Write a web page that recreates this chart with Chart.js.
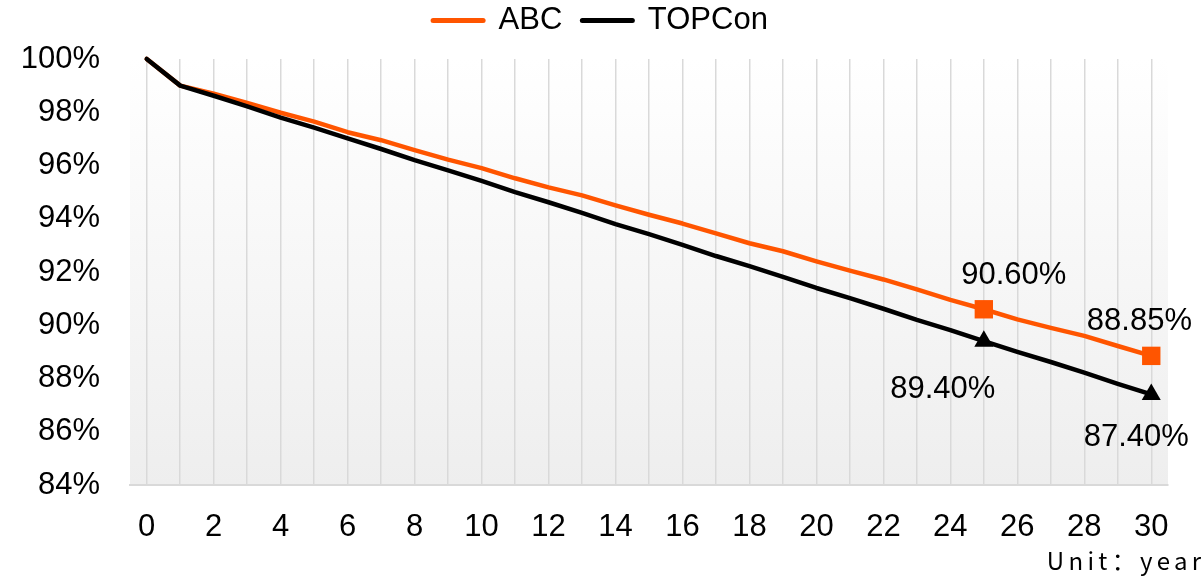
<!DOCTYPE html>
<html>
<head>
<meta charset="utf-8">
<script src="https://cdn.jsdelivr.net/npm/chart.js@4.4.1/dist/chart.umd.min.js"></script>
<style>
  html, body { margin: 0; padding: 0; background: #ffffff; }
  #wrap { width: 1201px; height: 580px; }
</style>
</head>
<body>
<div id="wrap"><canvas id="c" width="1201" height="580"></canvas></div>
<script>
// Module power retention over 30 years (percent of initial output)
const years = ['0','1','2','3','4','5','6','7','8','9','10','11','12','13','14','15',
               '16','17','18','19','20','21','22','23','24','25','26','27','28','29','30'];
const abcValues = [100, 99.00, 98.70, 98.35, 97.98, 97.65, 97.25, 96.95, 96.58, 96.22, 95.90,
                   95.52, 95.18, 94.88, 94.50, 94.15, 93.82, 93.45, 93.08, 92.78, 92.40,
                   92.05, 91.72, 91.35, 90.95, 90.60, 90.22, 89.90, 89.60, 89.22, 88.85];
const topconValues = [100, 99.00, 98.62, 98.22, 97.80, 97.42, 97.02, 96.62, 96.20, 95.82, 95.42,
                      95.00, 94.62, 94.22, 93.80, 93.42, 93.02, 92.60, 92.22, 91.82, 91.40,
                      91.02, 90.62, 90.20, 89.82, 89.40, 89.00, 88.62, 88.22, 87.80, 87.40];
const yTickValues = [84, 86, 88, 90, 92, 94, 96, 98, 100];
const xTickLabels = ['0','2','4','6','8','10','12','14','16','18','20','22','24','26','28','30'];
const markedYears = ['25', '30'];
const unitText = 'Unit：year';

const FONT = "'Liberation Sans', Arial, sans-serif";
const FONT_SIZE = 31;
const ORANGE = '#ff5500';
const BLACK = '#000000';

const isMarked = (ctx) => markedYears.includes(years[ctx.dataIndex]);

// Legend placement: extra room under the row, and centred on the canvas
const legendPlacement = {
  id: 'legendPlacement',
  beforeLayout(chart) {
    const lg = chart.legend;
    if (lg && !lg.__spaced) {
      const fit = lg.fit.bind(lg);
      lg.fit = function () { fit(); this.height += 13; };
      lg.__spaced = true;
    }
  },
  afterLayout(chart) {
    const lg = chart.legend;
    if (lg) lg.left += 11;
  }
};

// Soft vertical wash behind the plotting area
const plotBackground = {
  id: 'plotBackground',
  beforeDraw(chart) {
    const { ctx, chartArea: a } = chart;
    const g = ctx.createLinearGradient(0, a.top, 0, a.bottom);
    g.addColorStop(0, '#ffffff');
    g.addColorStop(1, '#eeeeee');
    ctx.save();
    ctx.fillStyle = g;
    ctx.fillRect(a.left, a.top, a.right - a.left, a.bottom - a.top);
    ctx.restore();
  }
};

// Value labels next to the marked points
const labelOffsets = {
  0: { '25': [30, -34], '30': [30, -34] },
  1: { '25': [-41, 48], '30': [-15, 43] }
};
const valueLabels = {
  id: 'valueLabels',
  afterDatasetsDraw(chart) {
    const { ctx } = chart;
    ctx.save();
    ctx.font = FONT_SIZE + 'px ' + FONT;
    ctx.fillStyle = '#000';
    ctx.textAlign = 'center';
    ctx.textBaseline = 'middle';
    chart.data.datasets.forEach((ds, di) => {
      const meta = chart.getDatasetMeta(di);
      markedYears.forEach((yr) => {
        const i = years.indexOf(yr);
        const pt = meta.data[i];
        const text = ds.data[i].toFixed(2) + '%';
        const [dx, dy] = labelOffsets[di][yr];
        const half = ctx.measureText(text).width / 2;
        const x = Math.min(pt.x + dx, chart.width - 9 - half);
        ctx.fillText(text, x, pt.y + dy);
      });
    });
    ctx.restore();
  }
};

// Unit note under the category axis
const unitNote = {
  id: 'unitNote',
  afterDraw(chart) {
    const { ctx } = chart;
    const spacing = 4.3;
    ctx.save();
    ctx.font = "24px 'Noto Sans CJK SC', " + FONT;
    if ('letterSpacing' in ctx) ctx.letterSpacing = spacing + 'px';
    ctx.fillStyle = '#000';
    ctx.textAlign = 'right';
    ctx.textBaseline = 'middle';
    ctx.fillText(unitText, chart.width + spacing, 561);
    ctx.restore();
  }
};

new Chart(document.getElementById('c'), {
  type: 'line',
  data: {
    labels: years,
    datasets: [
      {
        label: 'ABC',
        data: abcValues,
        borderColor: ORANGE,
        backgroundColor: ORANGE,
        borderWidth: 4.5,
        borderCapStyle: 'round',
        borderJoinStyle: 'round',
        pointStyle: 'rect',
        pointRadius: (ctx) => isMarked(ctx) ? 13 : 0,
        pointBorderWidth: 0,
        pointBackgroundColor: ORANGE,
        tension: 0,
        order: 2
      },
      {
        label: 'TOPCon',
        data: topconValues,
        borderColor: BLACK,
        backgroundColor: BLACK,
        borderWidth: 4.5,
        borderCapStyle: 'round',
        borderJoinStyle: 'round',
        pointStyle: 'triangle',
        pointRadius: (ctx) => isMarked(ctx) ? 11 : 0,
        pointBorderWidth: 0,
        pointBackgroundColor: BLACK,
        tension: 0,
        order: 1
      }
    ]
  },
  options: {
    responsive: false,
    animation: false,
    events: [],
    clip: false,
    layout: { padding: { top: -15, left: 22, right: 33, bottom: 15 } },
    plugins: {
      tooltip: { enabled: false },
      legend: {
        position: 'top',
        labels: {
          usePointStyle: true,
          pointStyle: 'line',
          pointStyleWidth: 50,
          padding: 20,
          color: '#000',
          font: { family: FONT, size: FONT_SIZE },
          sort: (a, b) => a.datasetIndex - b.datasetIndex,
          generateLabels: (chart) =>
            Chart.defaults.plugins.legend.labels.generateLabels(chart).map((item) => ({
              ...item,
              pointStyle: 'line',
              lineWidth: 5,
              lineCap: 'round',
              strokeStyle: chart.data.datasets[item.datasetIndex].borderColor
            }))
        }
      }
    },
    scales: {
      x: {
        type: 'category',
        offset: true,
        afterFit: (scale) => { scale.height = 80; },
        grid: { display: true, color: '#d9d9d9', lineWidth: 1.5, drawTicks: false, offset: false },
        border: { display: true, color: '#d9d9d9', width: 2 },
        ticks: {
          autoSkip: false,
          maxRotation: 0,
          padding: 24,
          color: '#000',
          font: { family: FONT, size: FONT_SIZE },
          callback: (v, i) => xTickLabels.includes(years[i]) ? years[i] : ''
        }
      },
      y: {
        min: 84,
        max: 100,
        afterBuildTicks: (axis) => { axis.ticks = yTickValues.map(v => ({ value: v })); },
        afterFit: (scale) => { scale.width = 108; scale.paddingTop = 59; },
        grid: { display: false, drawTicks: false },
        border: { display: false },
        ticks: {
          padding: 30,
          color: '#000',
          font: { family: FONT, size: FONT_SIZE },
          callback: (v) => v + '%'
        }
      }
    }
  },
  plugins: [legendPlacement, plotBackground, valueLabels, unitNote]
});
</script>
</body>
</html>
